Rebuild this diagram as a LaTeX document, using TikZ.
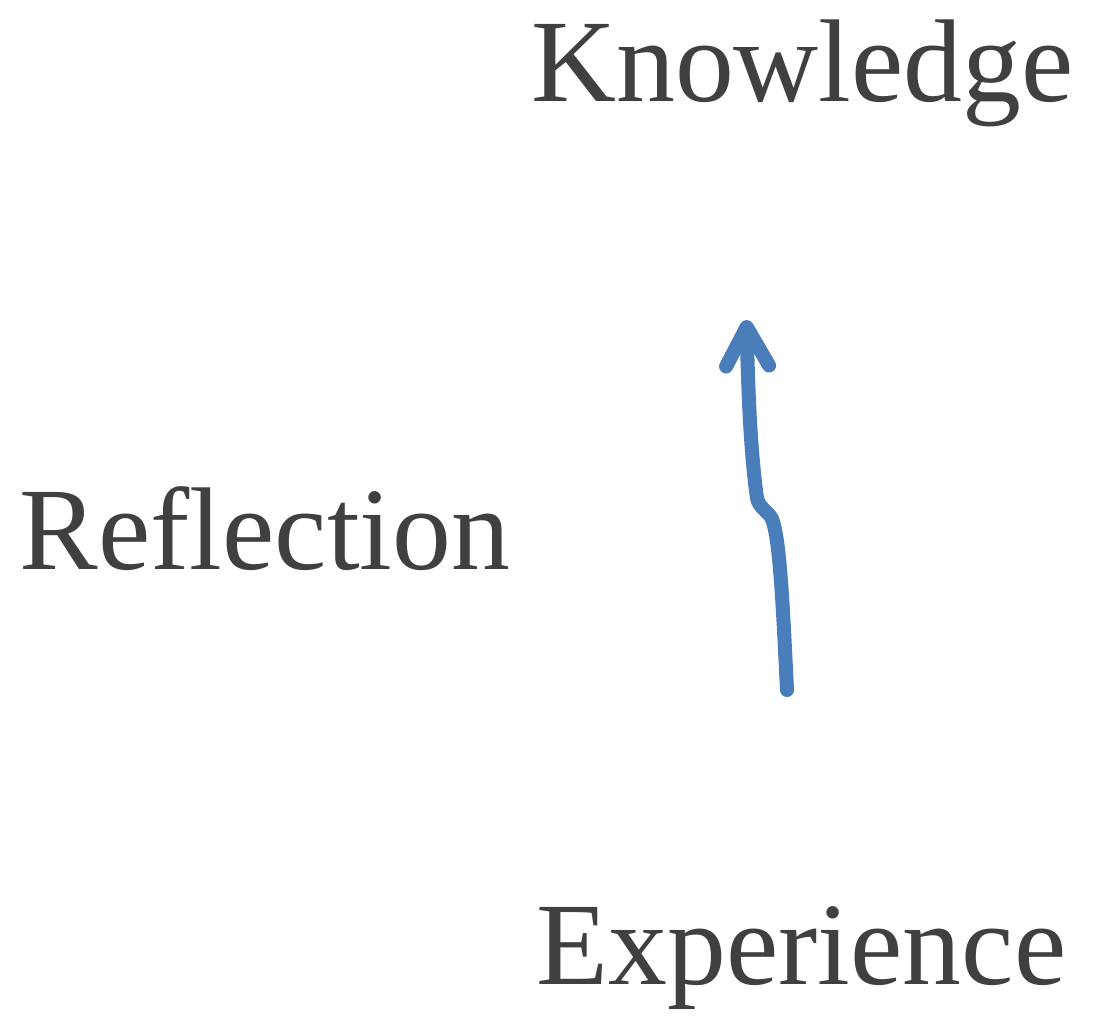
\documentclass[tikz,border=0pt]{standalone}
\usepackage{fontspec}
\setmainfont{Liberation Serif}
\usepackage{xcolor}
\usepackage{tikz}
\usetikzlibrary{arrows.meta}

\definecolor{labelgray}{HTML}{404040}
\definecolor{flowblue}{HTML}{4A7EBB}

\begin{document}
\begin{tikzpicture}[
    word/.style={anchor=base, text=labelgray, inner sep=0pt,
      font=\fontsize{67}{74}\selectfont},
    flow/.style={draw=flowblue, line width=8pt, line cap=round,
      -{Straight Barb[round, length=0.78cm, width=0.86cm]}}
  ]
    \useasboundingbox (0,0) rectangle (21.94,20.38);
    \node[word] (knowledge) at (16.05,18.34) {Knowledge};
    \node[word] (reflection) at (5.3,8.98) {Reflection};
    \node[word] (experience) at (16.03,0.68) {Experience};
    % the wavy arrow between experience and knowledge
    \coordinate (tail) at (15.74,6.58);
    \coordinate (kinkA) at (15.44,10.0);
    \coordinate (kinkB) at (15.14,10.42);
    \coordinate (head) at (14.93,13.98);
    \draw[flow] (tail) .. controls (15.66,8.2) and (15.6,9.6) .. (kinkA)
      .. controls (15.36,10.16) and (15.18,10.22) .. (kinkB)
      .. controls (15.0,11.4) and (14.96,12.7) .. (head);
  \end{tikzpicture}
\end{document}
